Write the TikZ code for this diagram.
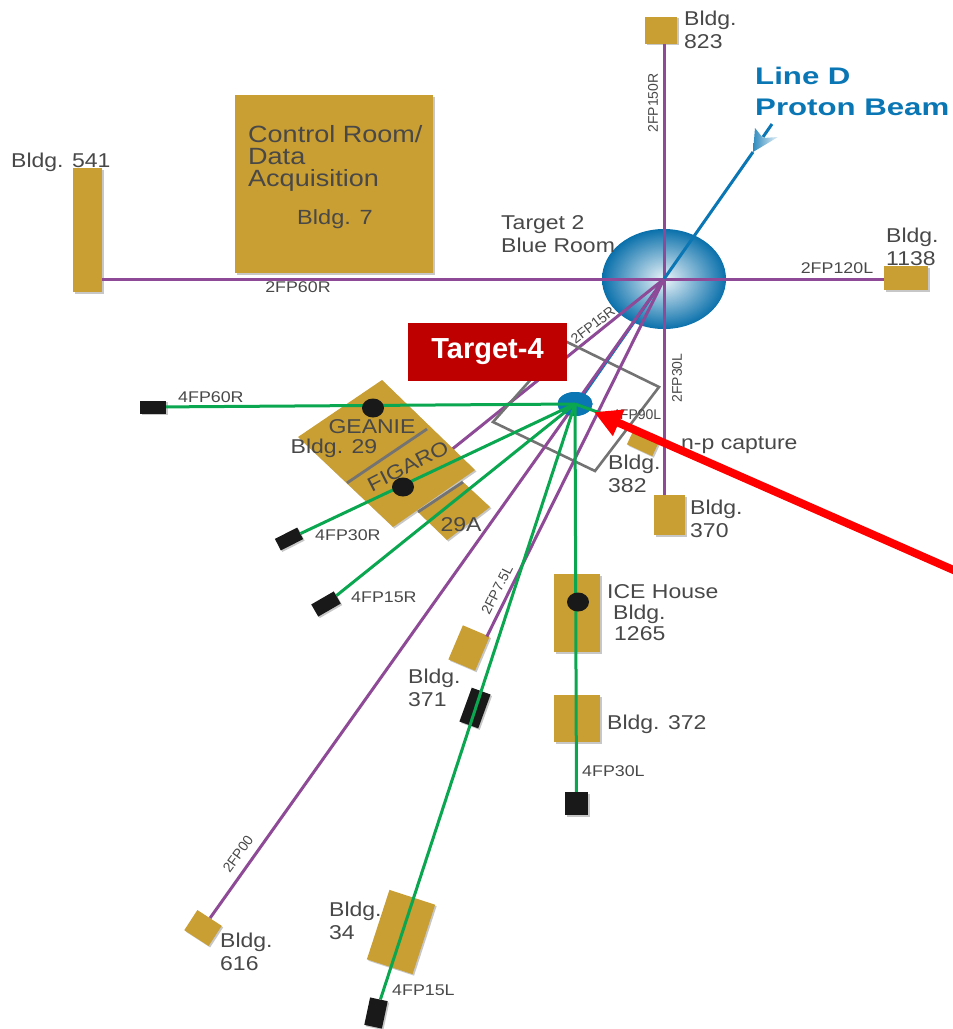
\documentclass[tikz,border=0pt]{standalone}
\usepackage{xcolor}
\usepackage{fontspec}
\setmainfont[FakeStretch=1.15]{Liberation Sans}
\newfontfamily\plainfont{Liberation Sans}
\newfontfamily\beamfont[FakeStretch=1.3]{Liberation Sans}
\usetikzlibrary{shapes.geometric, arrows.meta, positioning, shadows}

\definecolor{bldgGold}{HTML}{C99E32}
\definecolor{fpPurple}{HTML}{8E4A96}
\definecolor{fpGreen}{HTML}{0BA650}
\definecolor{beamBlue}{HTML}{0A76B4}
\definecolor{labelRed}{HTML}{BE0000}
\definecolor{textGray}{HTML}{484848}

\begin{document}
\begin{tikzpicture}[
    x=1pt, y=-1pt,
    bldg/.style={rectangle, fill=bldgGold, inner sep=0pt, drop shadow={shadow xshift=1.5pt, shadow yshift=-1.5pt, opacity=0.22, fill=black}},
    stopbox/.style={rectangle, fill=black!90, inner sep=0pt, drop shadow={shadow xshift=1.5pt, shadow yshift=-1.5pt, opacity=0.22, fill=black}},
    detector/.style={ellipse, fill=black!90, inner sep=0pt, minimum width=22pt, minimum height=19pt},
    lbl/.style={inner sep=0pt, align=left, text=textGray, font=\fontsize{20}{23}\selectfont},
    fp/.style={inner sep=0pt, text=textGray, font=\fontsize{15.5}{17}\selectfont},
    fpturned/.style={inner sep=0pt, text=textGray, font=\plainfont\fontsize{14}{16}\selectfont},
    purpleline/.style={draw=fpPurple, line width=3pt},
    greenline/.style={draw=fpGreen, line width=3pt},
    divider/.style={draw=black!55, line width=2.8pt},
]
    \useasboundingbox (0,0) rectangle (953,1029);

    % Target rooms and buildings
    \node[ellipse, minimum width=124pt, minimum height=100pt, inner sep=0pt, inner color=beamBlue!8, outer color=beamBlue!95!black] (targetTwo) at (664,279) {};
    \node[bldg, minimum width=198pt, minimum height=178pt] (bldgControl) at (334,184) {};
    \node[bldg, minimum width=29pt, minimum height=124pt] (bldgWest) at (87.5,230) {};
    \node[bldg, minimum width=32pt, minimum height=27pt] (bldgNorth) at (661,30) {};
    \node[bldg, minimum width=44pt, minimum height=24pt] (bldgEast) at (906,278) {};
    \node[bldg, minimum width=31pt, minimum height=40pt] (bldgSouth) at (669.5,515) {};
    \node[bldg, minimum width=28pt, minimum height=16pt, rotate=-25] (bldgCapture) at (643,443) {};
    \node[bldg, minimum width=46pt, minimum height=78pt] (bldgIce) at (577,613) {};
    \node[bldg, minimum width=46pt, minimum height=47pt] (bldgLower) at (577,718.5) {};
    \node[bldg, minimum width=29pt, minimum height=37pt, rotate=-23] (bldgNear) at (469,648) {};
    \node[bldg, minimum width=29pt, minimum height=24pt, rotate=-33] (bldgFar) at (203,928) {};
    \node[bldg, minimum width=48pt, minimum height=73pt, rotate=-18] (bldgLong) at (401,932) {};

    % Hall with the two stations and the annex
    \coordinate (hallEnd) at (430,467);
    \draw[purpleline] (targetTwo.center) -- (hallEnd);
    \path[bldg] (463,482) -- (490,507) -- (447,540) -- (418,512) -- cycle;
    \path[bldg] (382,380) -- (475,470) -- (393,527) -- (298,437) -- cycle;
    \draw[divider] (427,429) -- (347,483);
    \draw[divider] (463,482) -- (418,512);

    % Target-4 room
    \draw[draw=black!55, line width=2.6pt] (493,422) -- (595,471) -- (659,387) -- (565,341) -- cycle;

    % Flight paths of Target 2
    \draw[purpleline] (targetTwo.center) -- (targetTwo.center |- bldgNorth.south);
    \draw[purpleline] (targetTwo.center) -- (targetTwo.center -| bldgEast.west);
    \draw[purpleline] (targetTwo.center) -- (targetTwo.center -| bldgWest.east);
    \draw[purpleline] (targetTwo.center) -- (targetTwo.center |- bldgSouth.north);
    \node[ellipse, fill=beamBlue, minimum width=35pt, minimum height=24pt, inner sep=0pt] (targetFour) at (575,404) {};
    \coordinate (beamTail) at (753,152);
    \draw[draw=beamBlue, line width=3pt] (beamTail) -- (targetTwo.center) -- ([xshift=2pt]targetFour.center);
    \draw[purpleline] (targetTwo.center) -- (bldgFar);
    \draw[purpleline] (targetTwo.center) -- ([xshift=-3pt]bldgNear.north east);
    \node[ellipse, fill=beamBlue, minimum width=35pt, minimum height=24pt, inner sep=0pt] at (575,404) {};

    % Beam tip
    \coordinate (tipTop) at (772,124);
    \shade[left color=beamBlue!85, right color=beamBlue!10] (755,128) -- (763,138) -- (778,137) -- (753,152) -- cycle;
    \draw[draw=beamBlue, line width=3pt] (tipTop) -- (763,137);

    % Flight paths of Target 4
    \node[stopbox, minimum width=26pt, minimum height=13pt] (stopWest) at (153,407) {};
    \node[stopbox, minimum width=25pt, minimum height=13pt, rotate=27] (stopThirty) at (289,539) {};
    \node[stopbox, minimum width=26pt, minimum height=14pt, rotate=30] (stopFifteen) at (326,604) {};
    \node[stopbox, minimum width=23pt, minimum height=23pt] (stopSouth) at (576.5,803.5) {};
    \node[stopbox, minimum width=18pt, minimum height=28pt, rotate=-12] (stopLong) at (376,1013) {};
    \node[stopbox, minimum width=20pt, minimum height=36pt, rotate=-20] (stopBar) at (475,708) {};
    \coordinate (captureEnd) at (620,420);
    \draw[greenline] (targetFour.center) -- (stopWest);
    \draw[greenline] (targetFour.center) -- (stopThirty);
    \draw[greenline] (targetFour.center) -- (stopFifteen);
    \draw[greenline] (targetFour.center) -- (stopSouth);
    \draw[greenline] (targetFour.center) -- (stopLong);
    \draw[greenline] (targetFour.center) -- (captureEnd);
    \node[detector] (dotGeanie) at (373,408) {};
    \node[detector] (dotFigaro) at (403,487) {};
    \node[detector] (dotIce) at (578,602) {};

    % Building labels
    \node[lbl, anchor=west, font=\fontsize{23.5}{22}\selectfont] (txtControl) at (248,158) {Control Room/\\Data\\Acquisition};
    \node[lbl, font=\fontsize{20.5}{22.5}\selectfont] (txtSeven) at (335,219) {Bldg. 7};
    \node[lbl, anchor=west] (txtWest) at (11,162) {Bldg. 541};
    \node[lbl, anchor=west] (txtNorth) at (684,30) {Bldg.\\823};
    \node[lbl, anchor=west] (txtEast) at (886,247) {Bldg.\\1138};
    \node[lbl, anchor=west] (txtBlue) at (501,234) {Target 2\\Blue Room};
    \node[lbl, anchor=west] (txtCapture) at (681,445) {n-p capture};
    \node[lbl, anchor=west] (txtRoom) at (608,474) {Bldg.\\382};
    \node[lbl, anchor=west] (txtSouth) at (690,519) {Bldg.\\370};
    \node[lbl] (txtGeanie) at (372,427) {GEANIE};
    \node[lbl] (txtHall) at (334,448) {Bldg. 29};
    \node[lbl, rotate=27] (txtFigaro) at (408,466) {FIGARO};
    \node[lbl] (txtAnnex) at (461,525) {29A};
    \node[lbl, anchor=west] (txtIce) at (607,613) {ICE House\\[-2pt]\hspace*{6pt}Bldg.\\[-2pt]\hspace*{7pt}1265};
    \node[lbl, anchor=west] (txtLower) at (607,724) {Bldg. 372};
    \node[lbl, anchor=west] (txtNear) at (408,688) {Bldg.\\371};
    \node[lbl, anchor=west] (txtFar) at (220,952) {Bldg.\\616};
    \node[lbl, anchor=west] (txtLong) at (329,921) {Bldg.\\34};
    \node[anchor=west, inner sep=0pt, align=left, text=beamBlue, font=\beamfont\bfseries\fontsize{24}{31}\selectfont] (txtBeam) at (755,91) {Line D\\Proton Beam};

    % Flight path labels
    \node[fpturned, rotate=90] (fpNorth) at (653,103) {2FP150R};
    \node[fp] (fpEast) at (837,268) {2FP120L};
    \node[fp] (fpWest) at (298,287) {2FP60R};
    \node[fpturned, rotate=38] (fpHall) at (593,325) {2FP15R};
    \node[fpturned, rotate=90] (fpSouth) at (677,378) {2FP30L};
    \node[fpturned, anchor=west] (fpCapture) at (612,415) {4FP90L};
    \node[fp, anchor=west] (fpGeanie) at (178,397) {4FP60R};
    \node[fp, anchor=west] (fpThirty) at (315,535) {4FP30R};
    \node[fp, anchor=west] (fpFifteen) at (351,597) {4FP15R};
    \node[fpturned, rotate=63] (fpNear) at (497,590) {2FP7.5L};
    \node[fpturned, rotate=54] (fpFar) at (238,854) {2FP00};
    \node[fp, anchor=west] (fpLower) at (582,771) {4FP30L};
    \node[fp, anchor=west] (fpLong) at (392,990) {4FP15L};

    % Callout
    \node[rectangle, fill=labelRed, text=white, minimum width=159pt, minimum height=58pt, inner sep=0pt, font=\plainfont\bfseries\fontsize{29}{30}\selectfont] (callout) at (487.5,352) {Target-4};
    \coordinate (arrowTail) at (958,572);
    \coordinate (arrowTip) at (594,412);
    \draw[-{Triangle[length=27pt, width=27pt]}, draw=red, fill=red, line width=8pt] (arrowTail) -- (arrowTip);
\end{tikzpicture}
\end{document}
